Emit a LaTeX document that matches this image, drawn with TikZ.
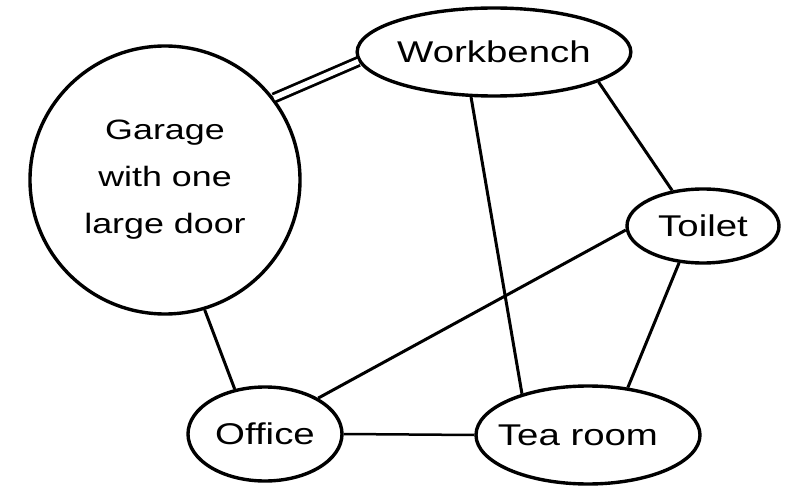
\documentclass[tikz,border=0pt]{standalone}
\usepackage{fontspec}
\setmainfont{Liberation Sans}[FakeStretch=1.28]
\usetikzlibrary{shapes.geometric}

\tikzset{
  room/.style={shape=ellipse, draw, line width=3.4pt, inner sep=0pt,
    font=\fontsize{30}{47}\selectfont},
  link/.style={line width=3pt},
  thinlink/.style={line width=2.5pt},
  wide/.style={line width=2.8pt, double=white, double distance=5.5pt},
}

\begin{document}
\begin{tikzpicture}[x=1pt, y=-1pt]
  \useasboundingbox (0,0) rectangle (793,489);

  % rooms
  \node[room, minimum width=270pt, minimum height=268pt, align=center,
        font=\fontsize{28}{47}\selectfont]
    (garage) at (165,180) {Garage\\with one\\large door};
  \node[room, minimum width=240pt, minimum height=88pt] (work) at (494,52) {Workbench};
  \node[room, minimum width=152pt, minimum height=74pt] (toilet) at (703,226) {Toilet};
  \node[room, minimum width=154pt, minimum height=94pt] (office) at (265,434) {Office};
  \node[room, minimum width=224pt, minimum height=98pt,
        label={[xshift=-10pt, font=\fontsize{30}{47}\selectfont]center:Tea room}]
    (tea) at (588,435) {};

  % connections between rooms
  \draw[wide] (garage.37) -- (work.184);
  \draw[link] (garage.-73) -- (office.124);
  \draw[link] (work.-117) -- (tea.148);
  \draw[link] (work.-16) -- (toilet.131);
  \draw[link] (toilet.183) -- (office.34);
  \draw[link] (toilet.-123) -- (tea.50);
  \draw[thinlink] (office.0) -- (tea.180);
\end{tikzpicture}
\end{document}
